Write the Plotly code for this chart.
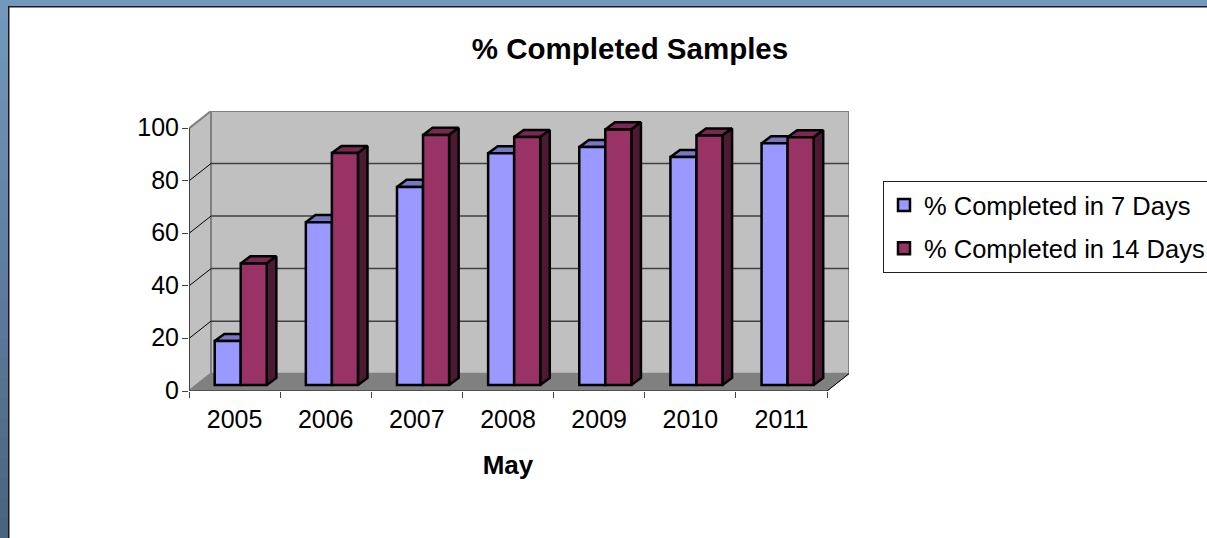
import plotly.graph_objects as go

categories = ["2005", "2006", "2007", "2008", "2009", "2010", "2011"]
series_names = ["% Completed in 7 Days", "% Completed in 14 Days"]
completed_7 = [16.75, 62.0, 75.4, 88.2, 90.6, 86.8, 92.0]
completed_14 = [46.3, 88.3, 95.2, 94.4, 97.3, 95.0, 94.3]
y_ticks = [0, 20, 40, 60, 80, 100]

FRONT = ["#9999FF", "#993366"]
TOP = ["#7777C4", "#7A2852"]
SIDE = ["#4D1A33", "#4D1A33"]
FONT = "Liberation Sans, Arial, sans-serif"

# oblique-projection parameters (in data units)
W, H = 1207, 538
L, R, T, B = 189, 849, 111, 391
FRONT_R = 827
n = len(categories)
XMAX = n * (R - L) / (FRONT_R - L)
DX = XMAX - n              # wall depth, x
DY = 6.6                   # wall depth, y
YMAX = 100 + DY
BAR_W = 1 / 3.5
BAR_X0 = 0.282
BASE = 2.28
BDX, BDY = 0.105, 2.7


def px(x):
    return (x - L) / (R - L)


def py(y):
    return (B - y) / (B - T)


def poly(points):
    xs, ys = [], []
    for p in points:
        xs += [q[0] for q in p] + [p[0][0], None]
        ys += [q[1] for q in p] + [p[0][1], None]
    return xs, ys


fig = go.Figure()


def add_poly(points, fill, line, width):
    xs, ys = poly(points)
    fig.add_trace(go.Scatter(x=xs, y=ys, mode="lines", fill="toself", fillcolor=fill,
                             line=dict(color=line, width=width), hoverinfo="skip",
                             showlegend=False, cliponaxis=False))


def add_line(xs, ys, color, width):
    fig.add_trace(go.Scatter(x=xs, y=ys, mode="lines", line=dict(color=color, width=width),
                             hoverinfo="skip", showlegend=False, cliponaxis=False))


# walls and floor
add_poly([[(DX, DY), (XMAX, DY), (XMAX, YMAX), (DX, YMAX)]], "#C0C0C0", "#808080", 2)
add_poly([[(0, 0), (DX, DY), (DX, YMAX), (0, 100)]], "#C0C0C0", "#808080", 2)
add_poly([[(0, 0), (n, 0), (XMAX, DY), (DX, DY)]], "#808080", "#808080", 1)

# gridlines
gx, gy, ox, oy = [], [], [], []
for v in y_ticks[1:-1]:
    gx += [DX, XMAX, None]
    gy += [v + DY, v + DY, None]
    ox += [0, DX, None]
    oy += [v, v + DY, None]
add_line(gx, gy, "#404040", 1.5)
add_line(ox, oy, "#000000", 1)
add_line([n, XMAX], [0, DY], "#000000", 1)
add_line([0, 0], [0, 100], "#404040", 2)
add_line([0, n], [0, 0], "#404040", 1.5)

# depth faces of the bars
for s, vals in enumerate([completed_7, completed_14]):
    tops, sides = [], []
    for i, v in enumerate(vals):
        x0 = i + BAR_X0 + s * BAR_W
        x1 = x0 + BAR_W
        yb = BASE
        yt = BASE + v
        tops.append([(x0, yt), (x1, yt), (x1 + BDX, yt + BDY), (x0 + BDX, yt + BDY)])
        sides.append([(x1, yb), (x1 + BDX, yb + BDY), (x1 + BDX, yt + BDY), (x1, yt)])
    add_poly(tops, TOP[s], "#000000", 2.5)
    add_poly(sides, SIDE[s], "#000000", 2.5)

# front faces, on a second axis so that they sit above the depth faces
for s, vals in enumerate([completed_7, completed_14]):
    fig.add_trace(go.Bar(x=list(range(n)), y=vals, base=BASE, width=BAR_W,
                         offset=BAR_X0 + s * BAR_W, name=series_names[s],
                         legendgroup=series_names[s], xaxis="x2",
                         marker=dict(color=FRONT[s], line=dict(color="#000000", width=2.5)),
                         customdata=categories,
                         hovertemplate="%{customdata}: %{y}<extra>" + series_names[s] + "</extra>"))

# page frame: flat top band, darkening left band
shapes = [dict(type="rect", xref="paper", yref="paper", x0=px(0), x1=px(W), y0=py(0), y1=py(6),
               fillcolor="#7398BD", line_width=0, layer="below")]
STEPS = 27
c0, c1 = (0x73, 0x98, 0xBD), (0x4A, 0x64, 0x80)
for k in range(STEPS):
    t = k / (STEPS - 1)
    col = "rgb(%d,%d,%d)" % tuple(round(a + (b - a) * t) for a, b in zip(c0, c1))
    shapes.append(dict(type="rect", xref="paper", yref="paper", x0=px(0), x1=px(8),
                       y0=py(k * H / STEPS), y1=py(H),
                       fillcolor=col, line_width=0, layer="below"))
shapes += [
    dict(type="rect", xref="paper", yref="paper", x0=px(8), x1=px(9.5), y0=py(6), y1=py(H),
         fillcolor="#1A1A1A", line_width=0, layer="below"),
    dict(type="rect", xref="paper", yref="paper", x0=px(8), x1=px(W), y0=py(6), y1=py(7.5),
         fillcolor="#1A1A1A", line_width=0, layer="below"),
]

fig.update_layout(
    width=W, height=H,
    margin=dict(l=L, r=W - R, t=T, b=H - B, pad=0, autoexpand=False),
    paper_bgcolor="#FFFFFF", plot_bgcolor="rgba(0,0,0,0)",
    barmode="overlay", shapes=shapes,
    font=dict(family=FONT, color="#000000", size=25),
    title=dict(text="<b>% Completed Samples</b>", font=dict(family=FONT, size=29.5, color="#000000"),
               x=px(630), xref="paper", xanchor="center",
               y=1 - 49 / H, yref="container", yanchor="middle"),
    xaxis=dict(range=[0, XMAX], tickvals=list(range(n + 1)), ticktext=[""] * (n + 1), ticks="outside",
               ticklen=6, tickcolor="#404040", showgrid=False, zeroline=False, showline=False),
    xaxis2=dict(domain=[0, px(FRONT_R)], range=[0, n], anchor="y", side="bottom",
                tickvals=[i + 0.5 for i in range(n)], ticktext=categories,
                ticks="outside", ticklen=6, tickcolor="rgba(0,0,0,0)", showgrid=False,
                zeroline=False, showline=False, tickfont=dict(size=25, family=FONT),
                title=dict(text="<b>May</b>", font=dict(size=26, family=FONT), standoff=23)),
    yaxis=dict(range=[0, YMAX], tickvals=y_ticks, ticks="outside", ticklen=6, tickcolor="#404040",
               tickfont=dict(size=25, family=FONT), showgrid=False, zeroline=False,
               showline=False, ticklabelstandoff=-2, ticklabelshift=-1),
    legend=dict(x=px(883), xanchor="left", y=py(181), yanchor="top",
                bgcolor="#FFFFFF", bordercolor="#202020", borderwidth=1,
                font=dict(size=25.5, family=FONT, color="#000000"),
                tracegroupgap=7, traceorder="grouped", entrywidth=320, entrywidthmode="pixels"),
)
fig.write_html("out.html", config={"displayModeBar": False},
               post_script="document.body.style.margin='0';document.body.style.overflow='hidden';")
